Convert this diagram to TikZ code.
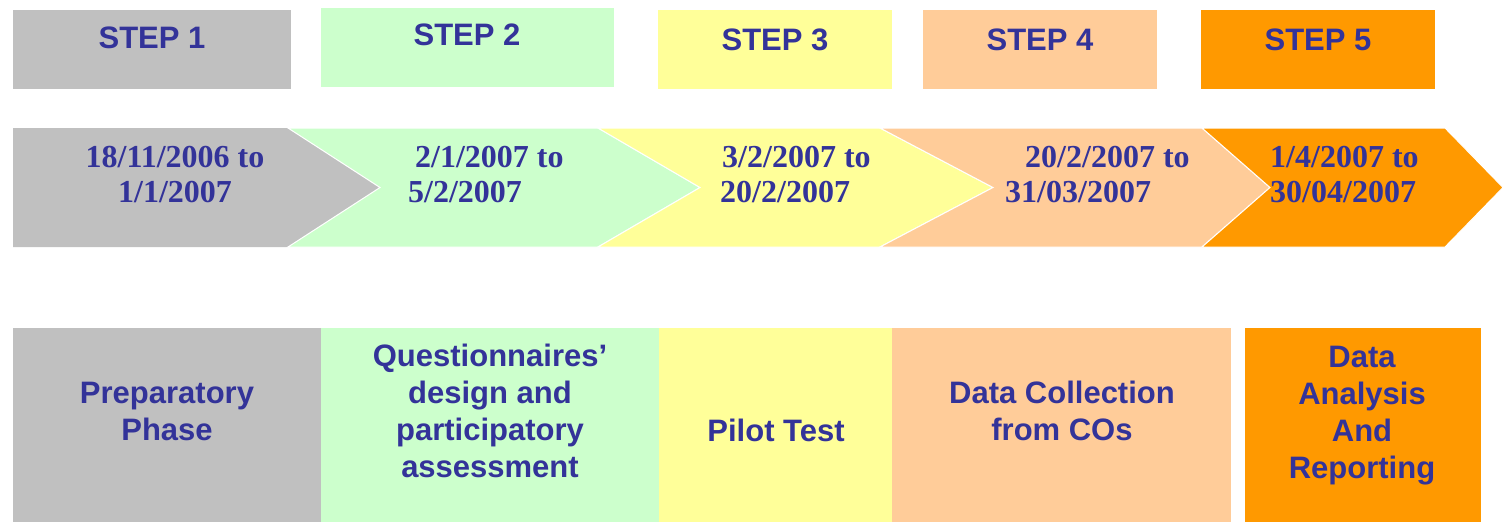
\documentclass[tikz,border=0pt]{standalone}
\usepackage{fontspec}
\setmainfont{Liberation Serif}
\setsansfont{Liberation Sans}
\definecolor{ink}{HTML}{333399}
\definecolor{cgray}{HTML}{C0C0C0}
\definecolor{cgreen}{HTML}{CCFFCC}
\definecolor{cyellow}{HTML}{FFFF99}
\definecolor{cpeach}{HTML}{FFCC99}
\definecolor{corange}{HTML}{FF9900}
\begin{document}
\begin{tikzpicture}[x=1pt,y=-1pt,
  box/.style={fill=#1, draw=none, inner sep=0pt, outer sep=0pt, anchor=north west},
  steplabel/.style={text=ink, font=\sffamily\bfseries\fontsize{31}{37}\selectfont, inner sep=0pt},
  dateline/.style={text=ink, font=\rmfamily\bfseries\fontsize{32}{35}\selectfont, inner sep=0pt, anchor=base west},
  phase/.style={text=ink, font=\sffamily\bfseries\fontsize{31}{37}\selectfont, align=center, inner sep=0pt},
  chevron/.style={fill=#1, draw=white, line width=1pt, line join=miter},
]
\useasboundingbox (0,0) rectangle (1503,522);

% ---- step headers ----
\node[box=cgray,   minimum width=278pt, minimum height=79pt] (h1) at (13,10) {};
\node[box=cgreen,  minimum width=293pt, minimum height=79pt] (h2) at (321,8) {};
\node[box=cyellow, minimum width=234pt, minimum height=79pt] (h3) at (658,10) {};
\node[box=cpeach,  minimum width=234pt, minimum height=79pt] (h4) at (923,10) {};
\node[box=corange, minimum width=234pt, minimum height=79pt] (h5) at (1201,10) {};
\node[steplabel] (s1) at (152,38) {STEP 1};
\node[steplabel] (s2) at (467,35) {STEP 2};
\node[steplabel] (s3) at (775,40) {STEP 3};
\node[steplabel] (s4) at (1040,40) {STEP 4};
\node[steplabel] (s5) at (1318,40) {STEP 5};

% ---- timeline chevrons ----
\fill[cgray] (13,128) -- (288,128) -- (380,187.5) -- (288,247) -- (13,247) -- cycle;
\path[chevron=cgreen]  (288,128) -- (598,128) -- (700,187.5) -- (598,247) -- (288,247) -- (380,187.5) -- cycle;
\path[chevron=cyellow] (598,128) -- (880,128) -- (993,187.5) -- (880,247) -- (598,247) -- (700,187.5) -- cycle;
\path[chevron=cpeach]  (880,128) -- (1202,128) -- (1270,187.5) -- (1202,247) -- (880,247) -- (993,187.5) -- cycle;
\path[chevron=corange] (1202,128) -- (1445,128) -- (1503,187.5) -- (1445,247) -- (1202,247) -- (1270,187.5) -- cycle;

% ---- dates ----
\node[dateline, anchor=base] (d1a) at (175,167) {18/11/2006 to};
\node[dateline, anchor=base] (d1b) at (175,202) {1/1/2007};
\node[dateline] (d2a) at (415,167) {2/1/2007 to};
\node[dateline] (d2b) at (408,202) {5/2/2007};
\node[dateline] (d3a) at (722,167) {3/2/2007 to};
\node[dateline] (d3b) at (720,202) {20/2/2007};
\node[dateline] (d4a) at (1025,167) {20/2/2007 to};
\node[dateline] (d4b) at (1005,202) {31/03/2007};
\node[dateline] (d5a) at (1270,167) {1/4/2007 to};
\node[dateline] (d5b) at (1270,202) {30/04/2007};

% ---- phase blocks ----
\node[box=cgray,   minimum width=308pt, minimum height=194pt] (p1) at (13,328) {};
\node[box=cgreen,  minimum width=338pt, minimum height=194pt] (p2) at (321,328) {};
\node[box=cyellow, minimum width=234pt, minimum height=194pt] (p3) at (659,328) {};
\node[box=cpeach,  minimum width=339pt, minimum height=194pt] (p4) at (892,328) {};
\node[box=corange, minimum width=236pt, minimum height=194pt] (p5) at (1245,328) {};
\node[phase] (t1) at (167,411) {Preparatory\\Phase};
\node[phase] (t2) at (490,411) {Questionnaires’\\design and\\participatory\\assessment};
\node[phase] (t3) at (776,430) {Pilot Test};
\node[phase] (t4) at (1062,411) {Data Collection\\from COs};
\node[phase] (t5) at (1362,416) {Data\\Analysis\\And\\Reporting};
\end{tikzpicture}
\end{document}
